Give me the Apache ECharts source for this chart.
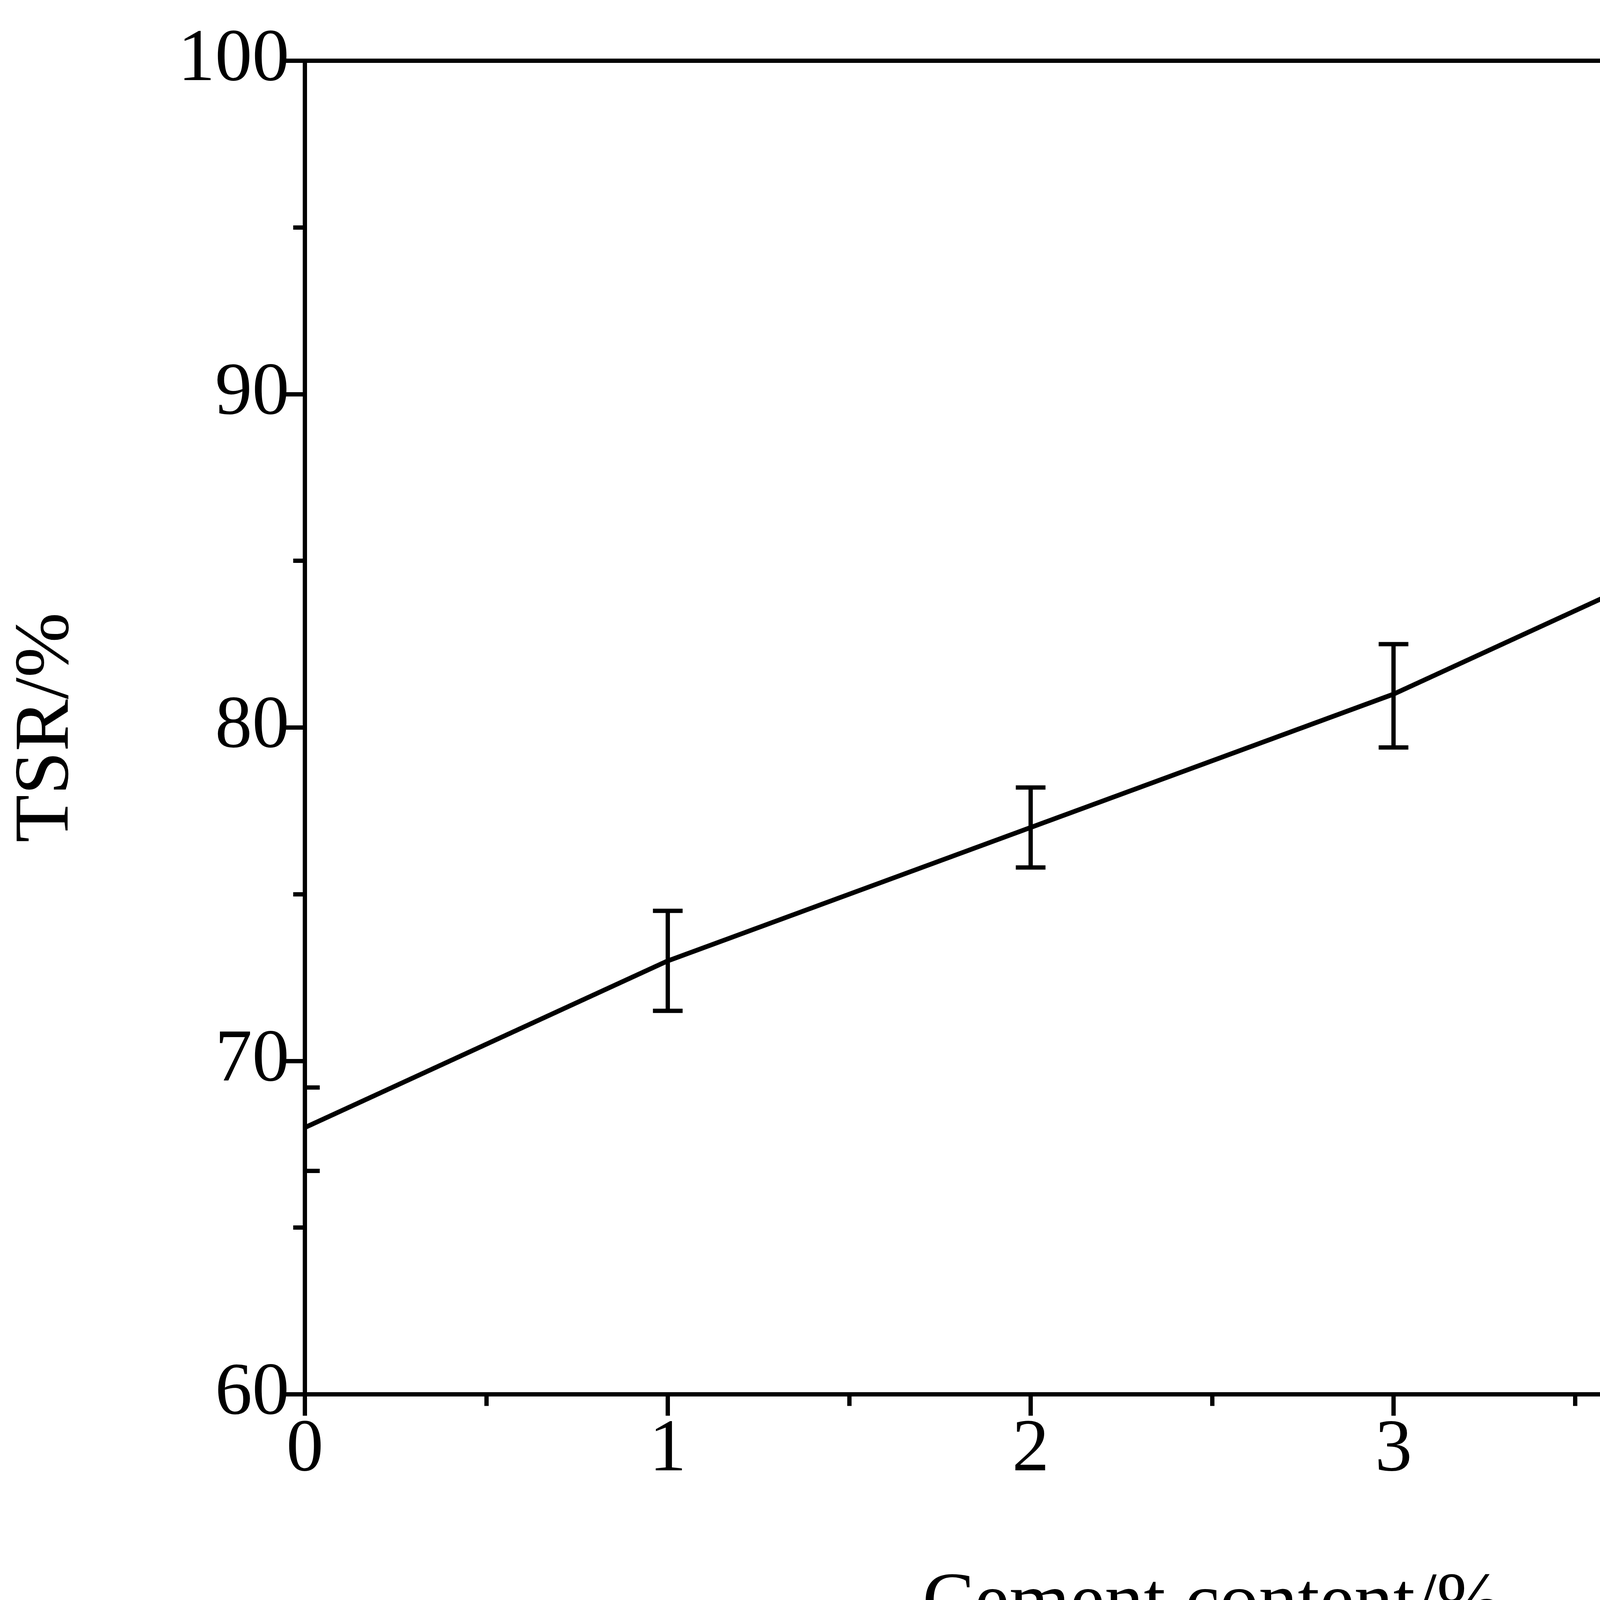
<!DOCTYPE html>
<html>
<head>
<meta charset="utf-8">
<script src="https://cdn.jsdelivr.net/npm/echarts@6/dist/echarts.min.js"></script>
<style>html,body{margin:0;padding:0;background:#fff;overflow:hidden}#chart{width:5536px;height:4316px}</style>
</head>
<body>
<div id="chart"></div>
<script>
var cement = [0, 1, 2, 3, 4, 5];
var tsr = [68, 73, 77, 81, 86, 93];
var errLow = [66.7, 71.5, 75.8, 79.4, 84.8, 91.1];
var errHigh = [69.2, 74.5, 78.2, 82.5, 87.2, 94.9];

var el = document.getElementById('chart');
var chart = echarts.init(el);
var s = el.clientWidth / 5536;
var font = 'Liberation Serif, Times New Roman, serif';
var axisLine = { show: true, lineStyle: { color: '#000', width: 11 * s } };

chart.setOption({
  animation: false,
  grid: { left: '14.1%', right: '2%', top: '3.6%', bottom: '17.3%' },
  xAxis: [{
    type: 'value', min: 0, max: 5, interval: 1,
    axisLine: axisLine,
    axisTick: { show: true, length: 55 * s, lineStyle: { width: 11 * s, color: '#000' } },
    minorTick: { show: true, splitNumber: 2, length: 30 * s, lineStyle: { width: 11 * s, color: '#000' } },
    splitLine: { show: false },
    axisLabel: { fontFamily: font, fontSize: 190 * s, color: '#000', margin: 50 * s },
    name: 'Cement content/%', nameLocation: 'middle', nameGap: 440 * s,
    nameTextStyle: { fontFamily: font, fontSize: 200 * s, color: '#000' }
  }, {
    type: 'value', min: 0, max: 5, position: 'top',
    axisLine: axisLine, axisTick: { show: false }, axisLabel: { show: false }, splitLine: { show: false }
  }],
  yAxis: [{
    type: 'value', min: 60, max: 100, interval: 10,
    axisLine: axisLine,
    axisTick: { show: true, length: 55 * s, lineStyle: { width: 11 * s, color: '#000' } },
    minorTick: { show: true, splitNumber: 2, length: 30 * s, lineStyle: { width: 11 * s, color: '#000' } },
    splitLine: { show: false },
    axisLabel: { fontFamily: font, fontSize: 190 * s, color: '#000', margin: 40 * s },
    name: 'TSR/%', nameLocation: 'middle', nameGap: 560 * s,
    nameTextStyle: { fontFamily: font, fontSize: 200 * s, color: '#000' }
  }, {
    type: 'value', min: 60, max: 100, position: 'right',
    axisLine: axisLine, axisTick: { show: false }, axisLabel: { show: false }, splitLine: { show: false }
  }],
  series: [{
    type: 'line',
    data: cement.map(function (c, i) { return [c, tsr[i]]; }),
    showSymbol: false,
    lineStyle: { color: '#000', width: 12 * s }
  }, {
    type: 'custom',
    clip: true,
    data: cement.map(function (c, i) { return [c, errLow[i], errHigh[i]]; }),
    renderItem: function (params, api) {
      var lo = api.coord([api.value(0), api.value(1)]);
      var hi = api.coord([api.value(0), api.value(2)]);
      var w = 38 * s;
      var st = { stroke: '#000', lineWidth: 11 * s };
      return {
        type: 'group',
        children: [
          { type: 'line', shape: { x1: lo[0], y1: lo[1], x2: hi[0], y2: hi[1] }, style: st },
          { type: 'line', shape: { x1: lo[0] - w, y1: lo[1], x2: lo[0] + w, y2: lo[1] }, style: st },
          { type: 'line', shape: { x1: hi[0] - w, y1: hi[1], x2: hi[0] + w, y2: hi[1] }, style: st }
        ]
      };
    }
  }]
});
</script>
</body>
</html>
